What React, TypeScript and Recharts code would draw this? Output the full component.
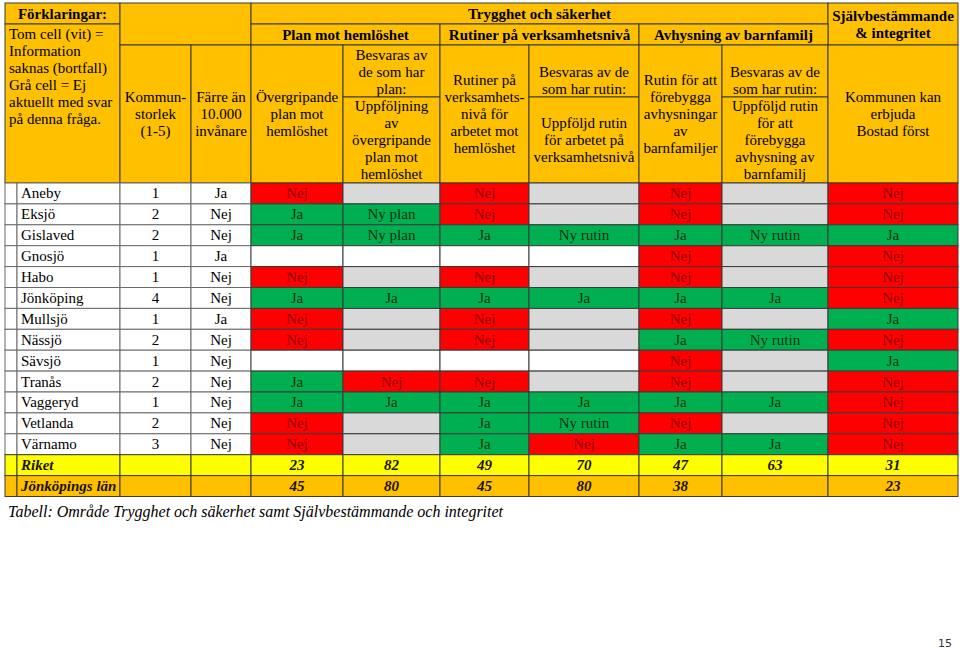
import React from "react";
import { ScatterChart, Scatter, XAxis, YAxis } from "recharts";

// Table data
const municipalities = [
  "Aneby", "Eksjö", "Gislaved", "Gnosjö", "Habo", "Jönköping", "Mullsjö",
  "Nässjö", "Sävsjö", "Tranås", "Vaggeryd", "Vetlanda", "Värnamo",
];
const kommunstorlek = [1, 2, 2, 1, 1, 4, 1, 2, 1, 2, 1, 2, 3];
const farreAn10000 = ["Ja", "Nej", "Nej", "Ja", "Nej", "Nej", "Ja", "Nej", "Nej", "Nej", "Nej", "Nej", "Nej"];

// "" = information saknas (white), "-" = ej aktuellt (grey)
const planMotHemloshet = ["Nej", "Ja", "Ja", "", "Nej", "Ja", "Nej", "Nej", "", "Ja", "Ja", "Nej", "Nej"];
const uppfoljningPlan = ["-", "Ny plan", "Ny plan", "", "-", "Ja", "-", "-", "", "Nej", "Ja", "-", "-"];
const rutinVerksamhet = ["Nej", "Nej", "Ja", "", "Nej", "Ja", "Nej", "Nej", "", "Nej", "Ja", "Ja", "Ja"];
const uppfoljdRutin = ["-", "-", "Ny rutin", "", "-", "Ja", "-", "-", "", "-", "Ja", "Ny rutin", "Nej"];
const rutinAvhysning = ["Nej", "Nej", "Ja", "Nej", "Nej", "Ja", "Nej", "Ja", "Nej", "Nej", "Ja", "Nej", "Ja"];
const uppfoljdAvhysning = ["-", "-", "Ny rutin", "-", "-", "Ja", "-", "Ny rutin", "-", "-", "Ja", "-", "Ja"];
const bostadForst = ["Nej", "Nej", "Ja", "Nej", "Nej", "Nej", "Ja", "Nej", "Ja", "Nej", "Nej", "Nej", "Nej"];

const riket = [23, 82, 49, 70, 47, 63, 31];
const jonkopingsLan = [45, 80, 45, 80, 38, null, 23];

const caption = "Tabell: Område Trygghet och säkerhet samt Självbestämmande och integritet";
const pageNumber = "15";

// layout
const W = 960;
const H = 649;
const COL = [5, 17, 120, 191, 251, 343, 440, 529, 639, 722, 828, 958];
const ROW_TOP = 183;
const ROW_H = 20.9;
const LINE_H = 17;
const FONT = '"Liberation Serif", "Times New Roman", serif';

const GOLD = "#FFC000";
const RED = "#FF0000";
const GREEN = "#00B050";
const GREY = "#D9D9D9";
const YELLOW = "#FFFF00";

type Cell = {
  x: number;
  y: number;
  w: number;
  h: number;
  fill?: string;
  lines: string[];
  color?: string;
  bold?: boolean;
  italic?: boolean;
  align?: "start" | "middle";
  valign?: "top" | "middle" | "bottom";
  size?: number;
  font?: string;
  stroke?: string;
};

function cell(c0: number, c1: number, top: number, bottom: number, fill: string | undefined, lines: string[], opts: Partial<Cell> = {}): Cell {
  const l = COL[c0];
  const r = COL[c1];
  return { x: (l + r) / 2, y: (top + bottom) / 2, w: r - l, h: bottom - top, fill, lines, ...opts };
}

const headerCells: Cell[] = [
  cell(0, 2, 3, 24, GOLD, ["Förklaringar:"], { bold: true }),
  cell(0, 2, 24, 183, GOLD, ["Tom cell (vit) =", "Information", "saknas (bortfall)", "Grå cell = Ej", "aktuellt med svar", "på denna fråga."], { align: "start", valign: "top" }),
  cell(2, 4, 3, 45, GOLD, []),
  cell(2, 3, 45, 183, GOLD, ["Kommun-", "storlek", "(1-5)"]),
  cell(3, 4, 45, 183, GOLD, ["Färre än", "10.000", "invånare"]),
  cell(4, 10, 3, 24, GOLD, ["Trygghet och säkerhet"], { bold: true }),
  cell(10, 11, 3, 45, GOLD, ["Självbestämmande", "& integritet"], { bold: true }),
  cell(4, 6, 24, 45, GOLD, ["Plan mot hemlöshet"], { bold: true }),
  cell(6, 8, 24, 45, GOLD, ["Rutiner på verksamhetsnivå"], { bold: true }),
  cell(8, 10, 24, 45, GOLD, ["Avhysning av barnfamilj"], { bold: true }),
  cell(4, 5, 45, 183, GOLD, ["Övergripande", "plan mot", "hemlöshet"]),
  cell(5, 6, 45, 97, GOLD, ["Besvaras av", "de som har", "plan:"], { valign: "bottom" }),
  cell(5, 6, 97, 183, GOLD, ["Uppföljning", "av", "övergripande", "plan mot", "hemlöshet"]),
  cell(6, 7, 45, 183, GOLD, ["Rutiner på", "verksamhets-", "nivå för", "arbetet mot", "hemlöshet"]),
  cell(7, 8, 45, 97, GOLD, ["Besvaras av de", "som har rutin:"], { valign: "bottom" }),
  cell(7, 8, 97, 183, GOLD, ["Uppföljd rutin", "för arbetet på", "verksamhetsnivå"]),
  cell(8, 9, 45, 183, GOLD, ["Rutin för att", "förebygga", "avhysningar", "av", "barnfamiljer"]),
  cell(9, 10, 45, 97, GOLD, ["Besvaras av de", "som har rutin:"], { valign: "bottom" }),
  cell(9, 10, 97, 183, GOLD, ["Uppföljd rutin", "för att", "förebygga", "avhysning av", "barnfamilj"]),
  cell(10, 11, 45, 183, GOLD, ["Kommunen kan", "erbjuda", "Bostad först"]),
];

const answerCols = [planMotHemloshet, uppfoljningPlan, rutinVerksamhet, uppfoljdRutin, rutinAvhysning, uppfoljdAvhysning, bostadForst];

function answerStyle(v: string) {
  if (v === "Nej") return { fill: RED, color: "#8a0000" };
  if (v === "-") return { fill: GREY, color: "#000" };
  if (v === "") return { fill: "#FFFFFF", color: "#000" };
  return { fill: GREEN, color: "#05300f" };
}

const bodyCells: Cell[] = [];
municipalities.forEach((name, i) => {
  const top = ROW_TOP + i * ROW_H;
  const bottom = top + ROW_H;
  bodyCells.push(cell(0, 1, top, bottom, "#FFFFFF", [], { stroke: "#6b6b6b" }));
  bodyCells.push(cell(1, 2, top, bottom, "#FFFFFF", [name], { align: "start", stroke: "#6b6b6b" }));
  bodyCells.push(cell(2, 3, top, bottom, "#FFFFFF", [String(kommunstorlek[i])], { stroke: "#6b6b6b" }));
  bodyCells.push(cell(3, 4, top, bottom, "#FFFFFF", [farreAn10000[i]], { stroke: "#6b6b6b" }));
  answerCols.forEach((col, j) => {
    const v = col[i];
    const s = answerStyle(v);
    bodyCells.push(cell(4 + j, 5 + j, top, bottom, s.fill, v === "-" ? [] : [v], { color: s.color }));
  });
});

const summaryRows: [string, (number | null)[], string][] = [
  ["Riket", riket, YELLOW],
  ["Jönköpings län", jonkopingsLan, GOLD],
];
summaryRows.forEach(([name, vals, fill], k) => {
  const top = ROW_TOP + (municipalities.length + k) * ROW_H;
  const bottom = top + ROW_H;
  const st = { bold: true, italic: true, color: "#1a1300" };
  bodyCells.push(cell(0, 1, top, bottom, fill, []));
  bodyCells.push(cell(1, 2, top, bottom, fill, [name], { ...st, align: "start" }));
  bodyCells.push(cell(2, 3, top, bottom, fill, []));
  bodyCells.push(cell(3, 4, top, bottom, fill, []));
  vals.forEach((v, j) => {
    bodyCells.push(cell(4 + j, 5 + j, top, bottom, fill, v == null ? [] : [String(v)], st));
  });
});

const textCells: Cell[] = [
  { x: 8, y: 511, w: 0, h: 0, lines: [caption], align: "start", italic: true, size: 16 },
  { x: 945, y: 643, w: 0, h: 0, lines: [pageNumber], size: 11, color: "#333", font: '"DejaVu Sans", sans-serif' },
];

const CellShape = (props: any) => {
  const { cx, cy, payload } = props;
  const c: Cell = payload;
  const left = cx - c.w / 2;
  const top = cy - c.h / 2;
  const n = c.lines.length;
  let firstY = cy - ((n - 1) * LINE_H) / 2;
  if (c.valign === "top") firstY = top + 9.5;
  if (c.valign === "bottom") firstY = top + c.h - 8.5 - (n - 1) * LINE_H;
  const tx = c.w === 0 ? cx : c.align === "start" ? left + 4 : cx;
  return (
    <g>
      {c.w > 0 && (
        <rect x={left} y={top} width={c.w} height={c.h} fill={c.fill} stroke={c.stroke || "#3a3a3a"} strokeWidth={1} />
      )}
      {c.lines.map((ln, i) => (
        <text
          key={i}
          x={tx}
          y={firstY + i * LINE_H}
          textAnchor={c.align === "start" ? "start" : "middle"}
          dominantBaseline="central"
          fontFamily={c.font || FONT}
          fontSize={c.size || 15}
          fontWeight={c.bold ? "bold" : "normal"}
          fontStyle={c.italic ? "italic" : "normal"}
          fill={c.color || "#000"}
        >
          {ln}
        </text>
      ))}
    </g>
  );
};

export default function App() {
  return (
    <div style={{ width: W, height: H, background: "#fff" }}>
      <style>{"body{margin:0}"}</style>
      <ScatterChart width={W} height={H} margin={{ top: 0, right: 0, bottom: 0, left: 0 }}>
        <XAxis type="number" dataKey="x" domain={[0, W]} hide />
        <YAxis type="number" dataKey="y" domain={[0, H]} reversed hide />
        <Scatter data={headerCells} shape={CellShape} isAnimationActive={false} />
        <Scatter data={bodyCells} shape={CellShape} isAnimationActive={false} />
        <Scatter data={textCells} shape={CellShape} isAnimationActive={false} />
      </ScatterChart>
    </div>
  );
}
